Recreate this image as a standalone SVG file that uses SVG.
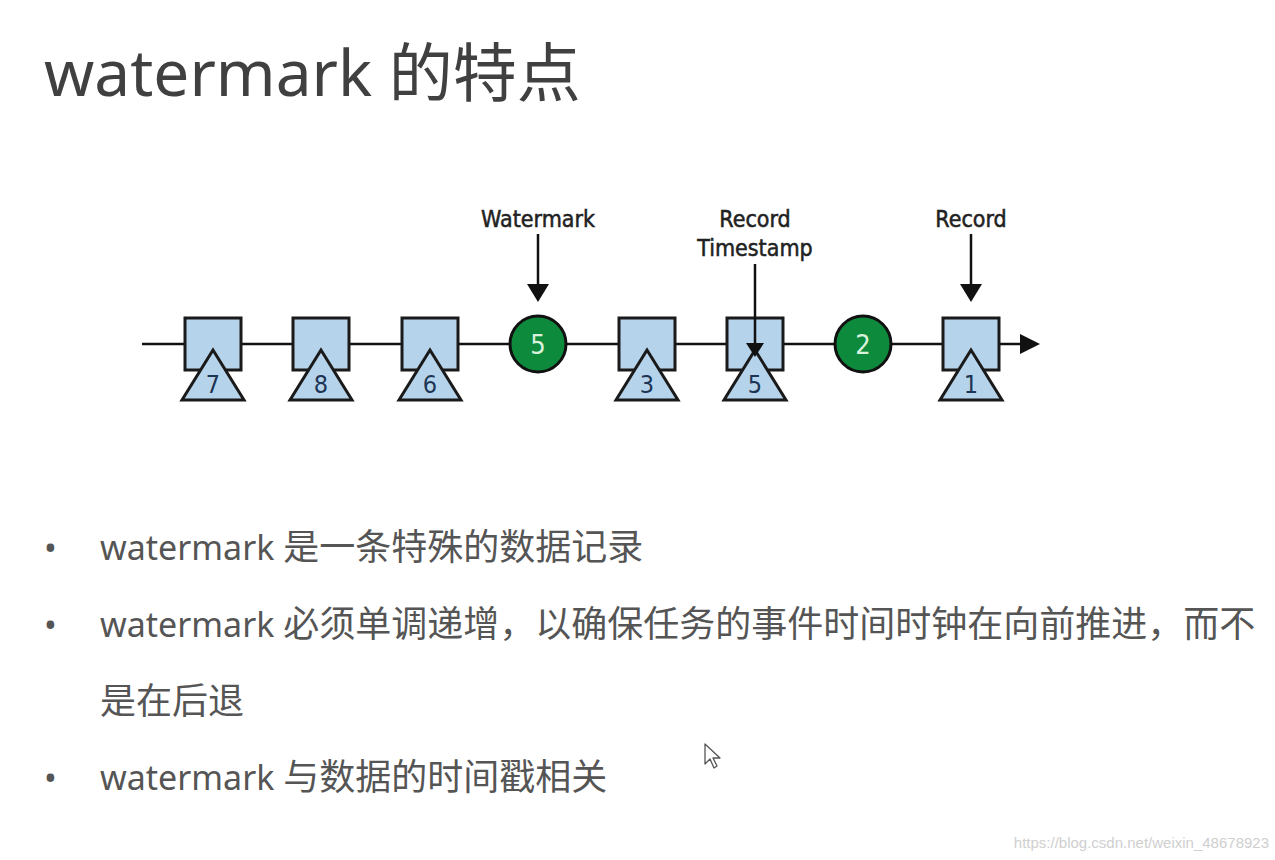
<svg xmlns="http://www.w3.org/2000/svg" width="1275" height="860" viewBox="0 0 1275 860">
<style>
.title{font-family:"Noto Sans","Noto Sans CJK SC",sans-serif;font-size:64px;fill:#404040}
.bullet{font-family:"Noto Sans","Noto Sans CJK SC",sans-serif;font-size:34px;fill:#555}
.cj{font-size:36px}
.lbl{font-family:"DejaVu Sans Condensed","DejaVu Sans",sans-serif;font-stretch:condensed;font-size:23px;fill:#222;stroke:#222;stroke-width:0.5;text-anchor:middle}
.num{font-family:"DejaVu Sans Condensed","DejaVu Sans",sans-serif;font-stretch:condensed;font-size:25px;fill:#1d3554;text-anchor:middle}
.wnum{font-family:"DejaVu Sans Condensed","DejaVu Sans",sans-serif;font-stretch:condensed;font-size:27px;fill:#d9f2dc;text-anchor:middle}
.rec{fill:#b5d3ea;stroke:#1a1a1a;stroke-width:3}
.tri{fill:#b5d3ea;stroke:#1a1a1a;stroke-width:3;stroke-linejoin:miter}
.wm{fill:#0d8a3c;stroke:#111;stroke-width:3}
.ln{stroke:#111;stroke-width:2.5;fill:none}
</style>
<rect width="1275" height="860" fill="#ffffff"/>
<text class="title" x="44" y="96">watermark 的特点</text>

<g id="connectors">
<line class="ln" x1="142" y1="344" x2="1024" y2="344"/>
<polygon points="1020,334 1040,344 1020,354" fill="#111"/>
<line class="ln" x1="538" y1="234" x2="538" y2="286"/>
<polygon points="527,284 549,284 538,302" fill="#111"/>
<line class="ln" x1="971" y1="234" x2="971" y2="286"/>
<polygon points="960,284 982,284 971,302" fill="#111"/>
</g>

<g id="r7"><rect class="rec" x="185" y="318" width="56" height="52"/><polygon class="tri" points="213,350 182,400 244,400"/><text class="num" x="213" y="393">7</text></g>
<g id="r8"><rect class="rec" x="293" y="318" width="56" height="52"/><polygon class="tri" points="321,350 290,400 352,400"/><text class="num" x="321" y="393">8</text></g>
<g id="r6"><rect class="rec" x="402" y="318" width="56" height="52"/><polygon class="tri" points="430,350 399,400 461,400"/><text class="num" x="430" y="393">6</text></g>
<g id="w5"><circle class="wm" cx="538" cy="344" r="28"/><text class="wnum" x="538" y="354">5</text></g>
<g id="r3"><rect class="rec" x="619" y="318" width="56" height="52"/><polygon class="tri" points="647,350 616,400 678,400"/><text class="num" x="647" y="393">3</text></g>
<g id="r5"><rect class="rec" x="727" y="318" width="56" height="52"/><polygon class="tri" points="755,350 724,400 786,400"/><text class="num" x="755" y="393">5</text></g>
<g id="w2"><circle class="wm" cx="863" cy="344" r="28"/><text class="wnum" x="863" y="354">2</text></g>
<g id="r1"><rect class="rec" x="943" y="318" width="56" height="52"/><polygon class="tri" points="971,350 940,400 1002,400"/><text class="num" x="971" y="393">1</text></g>

<g id="ts-arrow">
<line class="ln" x1="755" y1="264" x2="755" y2="346"/>
<polygon points="746,343 764,343 755,357" fill="#111"/>
</g>

<g id="labels">
<text class="lbl" x="538" y="227">Watermark</text>
<text class="lbl" x="755" y="227">Record</text>
<text class="lbl" x="755" y="256">Timestamp</text>
<text class="lbl" x="971" y="227">Record</text>
</g>

<g id="bullets">
<text class="bullet" x="44" y="560">•</text>
<text class="bullet" x="100" y="560">watermark <tspan class="cj">是一条特殊的数据记录</tspan></text>
<text class="bullet" x="44" y="637">•</text>
<text class="bullet" x="100" y="637">watermark <tspan class="cj">必须单调递增，以确保任务的事件时间时钟在向前推进，而不</tspan></text>
<text class="bullet cj" x="100" y="714">是在后退</text>
<text class="bullet" x="44" y="790">•</text>
<text class="bullet" x="100" y="790">watermark <tspan class="cj">与数据的时间戳相关</tspan></text>
</g>

<polygon points="705,744 705,764 710,759 714,768 717,766 713,758 720,758" fill="#fff" stroke="#555" stroke-width="1.3" stroke-linejoin="round"/>
<text x="1269" y="848" text-anchor="end" font-family="Liberation Sans, sans-serif" font-size="15" fill="#cfcfcf">https://blog.csdn.net/weixin_48678923</text>
</svg>
